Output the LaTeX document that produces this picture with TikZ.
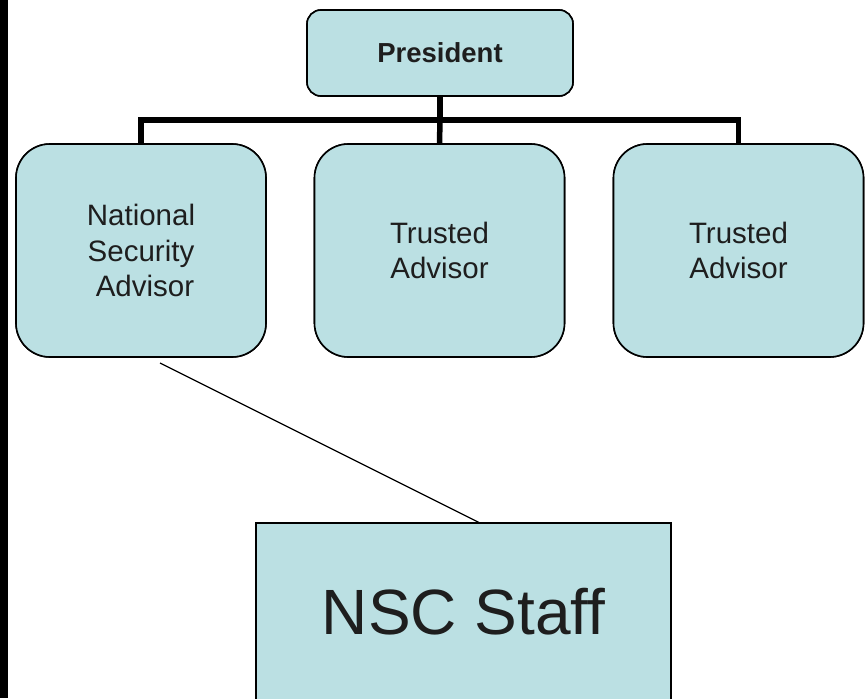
\documentclass[tikz,border=0pt]{standalone}
\usepackage{fontspec}
\setmainfont{Liberation Sans}
\definecolor{boxfill}{HTML}{BBE0E3}
\definecolor{txt}{HTML}{1E1E1E}
\begin{document}
\begin{tikzpicture}[x=1pt,y=-1pt,
  advbox/.style={draw=black,line width=1.6pt,fill=boxfill,rounded corners=34pt,
    minimum width=250pt,minimum height=213pt,inner sep=0pt,align=center,
    text=txt,font=\fontsize{29.5}{35.5}\selectfont},
  topbox/.style={draw=black,line width=1.6pt,fill=boxfill,rounded corners=14pt,
    minimum width=266pt,minimum height=86pt,inner sep=0pt,
    text=txt,font=\fontsize{27.5}{30}\selectfont\bfseries},
  staffbox/.style={draw=black,line width=2.4pt,fill=boxfill,
    minimum width=415pt,minimum height=178pt,inner sep=0pt,
    text=txt,font=\fontsize{64}{70}\selectfont},
  tree/.style={line width=5.5pt},
  thin/.style={line width=1.2pt}]
\useasboundingbox (0,0) rectangle (866,698);
\fill[white] (0,0) rectangle (866,698);
\fill[black] (0,0) rectangle (8,698);
\node[topbox] (pres) at (440,53) {President};
\node[advbox] (nsa) at (141,250.5) {National\\Security\\\hspace*{8pt}Advisor};
\node[advbox] (ta1) at (439.5,250.5) {Trusted\\Advisor};
\node[advbox] (ta2) at (738.5,250.5) {Trusted\\Advisor};
\node[staffbox] (staff) at (463.5,612) {NSC Staff};
\coordinate (bar) at (440,120);
\coordinate (free) at (160,363);
\coordinate (join) at (480,523);
% connectors of the tree
\draw[tree,line cap=rect] (pres.south) -- (bar);
\draw[tree] (nsa.north) -- (nsa.north |- bar) -- (ta2.north |- bar) -- (ta2.north);
\draw[tree] (bar) -- (ta1.north);
\draw[thin] (free) -- (join);
% boxes drawn again above the connectors
\node[topbox] at (pres) {President};
\node[advbox] at (nsa) {National\\Security\\\hspace*{8pt}Advisor};
\node[advbox] at (ta1) {Trusted\\Advisor};
\node[advbox] at (ta2) {Trusted\\Advisor};
\node[staffbox] at (staff) {NSC Staff};
\end{tikzpicture}
\end{document}
